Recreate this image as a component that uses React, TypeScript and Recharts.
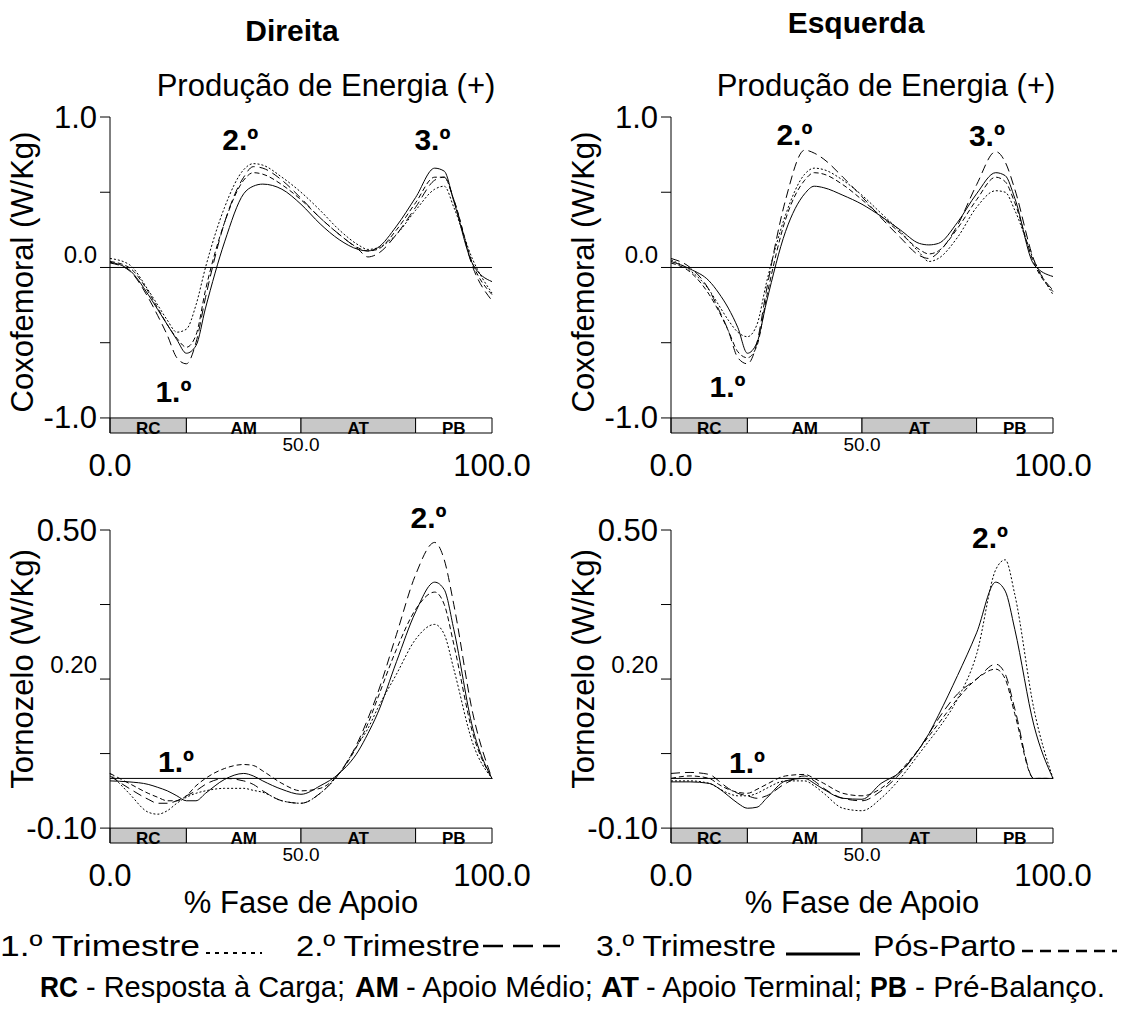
import React from 'react';
import { LineChart, Line, XAxis, YAxis, ReferenceLine, ReferenceArea, ReferenceDot } from 'recharts';

const FONT = '"Liberation Sans", Arial, Helvetica, sans-serif';

// % da fase de apoio
const pct = [0, 5, 10, 12.5, 15, 17.5, 20, 22.5, 25, 30, 35, 37.5, 40, 45, 50, 55, 60, 65, 67.5, 70, 75, 80, 85, 87.5, 90, 95, 100];

// Coxofemoral - Direita
const hipDirT1 = [0.06, 0.02, -0.15, -0.25, -0.35, -0.43, -0.41, -0.25, 0.0, 0.4, 0.65, 0.69, 0.68, 0.6, 0.5, 0.38, 0.25, 0.15, 0.12, 0.13, 0.22, 0.38, 0.52, 0.54, 0.4, 0.05, -0.17];
const hipDirT2 = [0.03, -0.02, -0.2, -0.32, -0.45, -0.6, -0.64, -0.5, -0.2, 0.3, 0.6, 0.67, 0.66, 0.58, 0.46, 0.33, 0.22, 0.12, 0.07, 0.09, 0.22, 0.4, 0.58, 0.6, 0.45, 0.0, -0.22];
const hipDirT3 = [0.035, -0.015, -0.18, -0.28, -0.38, -0.48, -0.57, -0.52, -0.27, 0.17, 0.49, 0.54, 0.554, 0.52, 0.42, 0.29, 0.185, 0.12, 0.11, 0.13, 0.275, 0.465, 0.66, 0.64, 0.44, 0.02, -0.094];
const hipDirPP = [0.04, 0.0, -0.16, -0.27, -0.38, -0.47, -0.53, -0.45, -0.15, 0.3, 0.58, 0.63, 0.62, 0.55, 0.45, 0.33, 0.22, 0.13, 0.11, 0.12, 0.25, 0.43, 0.6, 0.6, 0.45, 0.02, -0.18];

// Coxofemoral - Esquerda
const hipEsqT1 = [0.05, -0.02, -0.15, -0.25, -0.35, -0.43, -0.46, -0.38, -0.1, 0.35, 0.62, 0.66, 0.65, 0.58, 0.48, 0.36, 0.24, 0.1, 0.04, 0.06, 0.2, 0.4, 0.51, 0.5, 0.38, 0.05, -0.18];
const hipEsqT2 = [0.06, 0.0, -0.15, -0.28, -0.42, -0.6, -0.64, -0.5, -0.15, 0.45, 0.78, 0.76, 0.72, 0.6, 0.47, 0.33, 0.2, 0.08, 0.06, 0.1, 0.28, 0.55, 0.77, 0.7, 0.52, 0.05, -0.15];
const hipEsqT3 = [0.04, -0.01, -0.09, -0.17, -0.27, -0.4, -0.57, -0.5, -0.23, 0.24, 0.49, 0.54, 0.53, 0.48, 0.42, 0.34, 0.25, 0.16, 0.15, 0.16, 0.3, 0.49, 0.63, 0.61, 0.46, 0.02, -0.06];
const hipEsqPP = [0.03, -0.03, -0.18, -0.29, -0.42, -0.56, -0.6, -0.52, -0.2, 0.32, 0.58, 0.63, 0.62, 0.55, 0.45, 0.34, 0.23, 0.12, 0.09, 0.11, 0.26, 0.45, 0.6, 0.57, 0.43, 0.03, -0.16];

// Tornozelo - Direita
const ankDirT1 = [0.01, -0.03, -0.068, -0.072, -0.065, -0.05, -0.038, -0.03, -0.025, -0.02, -0.02, -0.024, -0.028, -0.045, -0.05, -0.03, 0.01, 0.07, 0.1, 0.14, 0.21, 0.28, 0.31, 0.29, 0.22, 0.07, 0];
const ankDirT2 = [0.005, -0.02, -0.042, -0.05, -0.05, -0.045, -0.035, -0.025, -0.012, 0.0, -0.005, -0.012, -0.025, -0.045, -0.05, -0.03, 0.01, 0.075, 0.12, 0.17, 0.29, 0.41, 0.475, 0.44, 0.35, 0.13, 0];
const ankDirT3 = [-0.005, -0.007, -0.012, -0.018, -0.025, -0.035, -0.045, -0.045, -0.03, -0.002, 0.01, 0.005, -0.005, -0.022, -0.032, -0.015, 0.01, 0.055, 0.09, 0.13, 0.235, 0.335, 0.395, 0.38, 0.3, 0.1, 0];
const ankDirPP = [0.01, -0.01, -0.03, -0.038, -0.045, -0.045, -0.035, -0.015, 0.0, 0.02, 0.028, 0.026, 0.015, -0.01, -0.025, -0.02, 0.01, 0.07, 0.11, 0.16, 0.26, 0.34, 0.375, 0.35, 0.27, 0.09, 0];

// Tornozelo - Esquerda
const ankEsqT1 = [-0.005, -0.005, -0.01, -0.02, -0.03, -0.035, -0.035, -0.03, -0.02, -0.005, -0.005, -0.015, -0.03, -0.06, -0.065, -0.04, 0.0, 0.05, 0.075, 0.1, 0.16, 0.25, 0.42, 0.44, 0.37, 0.14, 0];
const ankEsqT2 = [0.01, 0.012, 0.008, -0.005, -0.02, -0.03, -0.035, -0.04, -0.035, -0.01, 0.005, -0.005, -0.02, -0.04, -0.045, -0.025, 0.01, 0.06, 0.09, 0.12, 0.17, 0.2, 0.23, 0.21, 0.14, 0.0, 0];
const ankEsqT3 = [-0.007, -0.007, -0.01, -0.02, -0.035, -0.05, -0.06, -0.058, -0.04, -0.005, 0.0, -0.01, -0.022, -0.04, -0.042, -0.01, 0.013, 0.06, 0.09, 0.127, 0.207, 0.293, 0.395, 0.377, 0.3, 0.107, 0];
const ankEsqPP = [0.0, 0.005, 0.0, -0.012, -0.022, -0.028, -0.03, -0.022, -0.012, 0.005, 0.008, 0.0, -0.01, -0.03, -0.035, -0.02, 0.015, 0.06, 0.085, 0.11, 0.16, 0.2, 0.22, 0.2, 0.13, 0.0, 0];

const seriesKeys = ['t1', 't2', 't3', 'pp'];
const seriesNames = ['1.º Trimestre', '2.º Trimestre', '3.º Trimestre', 'Pós-Parto'];

const phaseNames = ['RC', 'AM', 'AT', 'PB'];
const phaseDesc = ['- Resposta à Carga;', '- Apoio Médio;', '- Apoio Terminal;', '- Pré-Balanço.'];
const phaseFrom = [0, 20, 50, 80];
const phaseTo = [20, 50, 80, 100];

const hipTicks = [1, 0.5, 0, -0.5, -1];
const ankleTicks = [0.5, 0.35, 0.2, 0.05, -0.1];
const xTicks = [0, 50, 100];

// picos anotados
const markText = ['1.º', '2.º', '3.º'];
const hipDirMarkX = [16.6, 34.1, 84.4];
const hipDirMarkY = [-0.825, 0.85, 0.85];
const hipEsqMarkX = [14.8, 32.3, 82.7];
const hipEsqMarkY = [-0.79, 0.885, 0.88];
const ankDirMarkX = [17.3, 83.4];
const ankDirMarkY = [0.035, 0.525];
const ankEsqMarkX = [19.9, 83.5];
const ankEsqMarkY = [0.032, 0.485];

const dash: Record<string, string | undefined> = { t1: '2 2', t2: '9 5', t3: undefined, pp: '5 3' };

const rows = (a: number[], b: number[], c: number[], d: number[]) =>
  pct.map((x, i) => ({ x, t1: a[i], t2: b[i], t3: c[i], pp: d[i] }));

type TickLabel = { v: number; text: string; size: number; dy: number };

const hipLabels: TickLabel[] = [
  { v: 1, text: '1.0', size: 31, dy: 0 },
  { v: 0, text: '0.0', size: 24, dy: -13 },
  { v: -1, text: '-1.0', size: 31, dy: 0 },
];
const ankleLabels: TickLabel[] = [
  { v: 0.5, text: '0.50', size: 31, dy: 0 },
  { v: 0.2, text: '0.20', size: 24, dy: -15 },
  { v: -0.1, text: '-0.10', size: 31, dy: 0 },
];

function YTick(props: any) {
  const { x, y, payload, labels } = props;
  const l = (labels as TickLabel[]).find((t) => Math.abs(t.v - payload.value) < 1e-9);
  if (!l) return <g />;
  return (
    <text x={x} y={y + l.dy} textAnchor="end" dominantBaseline="central" fontSize={l.size} fontFamily={FONT} fill="#000">
      {l.text}
    </text>
  );
}

function XTick(props: any) {
  const { x, y, payload } = props;
  if (payload.value === 50) {
    return (
      <text x={x} y={y + 18} textAnchor="middle" fontSize={19} fontFamily={FONT} fill="#000">50.0</text>
    );
  }
  return (
    <text x={x} y={y + 43} textAnchor="middle" fontSize={31} fontFamily={FONT} fill="#000">
      {payload.value.toFixed(1)}
    </text>
  );
}

function AxisTitle(props: any) {
  const { text, cx, cy, rotate } = props;
  const t = rotate ? `translate(${cx},${cy}) rotate(-90)` : `translate(${cx},${cy})`;
  return (
    <text transform={t} textAnchor="middle" fontSize={31} fontFamily={FONT} fill="#000">
      {text}
    </text>
  );
}

type PanelProps = {
  data: any[];
  left: number;
  top: number;
  height: number;
  marginBottom: number;
  xHeight: number;
  domain: [number, number];
  barTo: number;
  ticks: number[];
  labels: TickLabel[];
  yTitle: string;
  yTitleY: number;
  xTitle?: string;
  markX: number[];
  markY: number[];
};

function Panel(p: PanelProps) {
  return (
    <div style={{ position: 'absolute', left: p.left, top: p.top }}>
      <LineChart
        width={540}
        height={p.height}
        data={p.data}
        margin={{ top: 57, right: 48, left: 0, bottom: p.marginBottom }}
      >
        <XAxis
          type="number"
          dataKey="x"
          domain={[0, 100]}
          ticks={xTicks}
          interval={0}
          axisLine={false}
          tickLine={false}
          tickSize={0}
          tickMargin={0}
          height={p.xHeight}
          tick={(t: any) => <XTick {...t} />}
          label={p.xTitle ? <AxisTitle text={p.xTitle} cx={301} cy={p.height - 40} /> : undefined}
        />
        <YAxis
          type="number"
          domain={p.domain}
          ticks={p.ticks}
          interval={0}
          width={110}
          allowDataOverflow
          axisLine={{ stroke: '#000', strokeWidth: 1 }}
          tickLine={{ stroke: '#000', strokeWidth: 1 }}
          tickSize={10}
          tickMargin={3}
          tick={(t: any) => <YTick {...t} labels={p.labels} />}
          label={<AxisTitle text={p.yTitle} cx={33} cy={p.yTitleY} rotate />}
        />
        {phaseNames.map((ph, i) => (
          <ReferenceArea
            key={ph}
            x1={phaseFrom[i]}
            x2={phaseTo[i]}
            y1={p.domain[0]}
            y2={p.barTo}
            fill={i % 2 === 0 ? '#c8c8c8' : '#ffffff'}
            fillOpacity={1}
            stroke="#000"
            strokeWidth={1}
            ifOverflow="visible"
            label={{ value: ph, position: 'center', fontSize: 17, fontWeight: 'bold', fill: '#000', fontFamily: FONT, dy: 2 }}
          />
        ))}
        <ReferenceLine y={0} stroke="#000" strokeWidth={1} />
        {seriesKeys.map((k, i) => (
          <Line
            key={k}
            name={seriesNames[i]}
            dataKey={k}
            type="monotone"
            stroke="#000"
            strokeWidth={1}
            strokeDasharray={dash[k]}
            dot={false}
            activeDot={false}
            isAnimationActive={false}
          />
        ))}
        {p.markX.map((mx, i) => (
          <ReferenceDot
            key={i}
            x={mx}
            y={p.markY[i]}
            r={0}
            fill="none"
            stroke="none"
            ifOverflow="visible"
            label={{ value: markText[i], position: 'center', fontSize: 30, fontWeight: 'bold', fill: '#000', fontFamily: FONT }}
          />
        ))}
      </LineChart>
    </div>
  );
}

// posições da nota de rodapé: [início abreviatura, largura abreviatura, início descrição, largura descrição]
const noteLayout = [
  [40, 38, 86, 259],
  [355, 44, 406, 187],
  [601, 38, 646, 216],
  [870, 37, 915, 190],
];

function Legend() {
  return (
    <svg width={1122} height={1014} style={{ position: 'absolute', left: 0, top: 0 }}>
      <text x={292} y={41} textAnchor="middle" fontSize={30} fontWeight="bold" fontFamily={FONT}>Direita</text>
      <text x={856} y={33} textAnchor="middle" fontSize={30} fontWeight="bold" fontFamily={FONT}>Esquerda</text>
      <text x={326} y={96} textAnchor="middle" fontSize={31} fontFamily={FONT}>Produção de Energia (+)</text>
      <text x={886} y={96} textAnchor="middle" fontSize={31} fontFamily={FONT}>Produção de Energia (+)</text>

      <text x={0} y={956} fontSize={30} fontFamily={FONT} textLength={200} lengthAdjust="spacingAndGlyphs">{seriesNames[0]}</text>
      <line x1={206} x2={262} y1={953} y2={953} stroke="#000" strokeWidth={2} strokeDasharray="4 5" />
      <text x={296} y={956} fontSize={30} fontFamily={FONT} textLength={184} lengthAdjust="spacingAndGlyphs">{seriesNames[1]}</text>
      <line x1={483} x2={560} y1={946} y2={946} stroke="#000" strokeWidth={2.5} strokeDasharray="20 10" />
      <text x={596} y={956} fontSize={30} fontFamily={FONT} textLength={180} lengthAdjust="spacingAndGlyphs">{seriesNames[2]}</text>
      <line x1={786} x2={860} y1={954} y2={954} stroke="#000" strokeWidth={3} />
      <text x={873} y={956} fontSize={30} fontFamily={FONT} textLength={143} lengthAdjust="spacingAndGlyphs">{seriesNames[3]}</text>
      <line x1={1022} x2={1117} y1={951} y2={951} stroke="#000" strokeWidth={2.5} strokeDasharray="11 7" />

      {phaseNames.map((ph, i) => (
        <React.Fragment key={ph}>
          <text x={noteLayout[i][0]} y={997} fontSize={29} fontWeight="bold" fontFamily={FONT}
            textLength={noteLayout[i][1]} lengthAdjust="spacingAndGlyphs">{ph}</text>
          <text x={noteLayout[i][2]} y={997} fontSize={29} fontFamily={FONT}
            textLength={noteLayout[i][3]} lengthAdjust="spacingAndGlyphs">{phaseDesc[i]}</text>
        </React.Fragment>
      ))}
    </svg>
  );
}

export default function App() {
  return (
    <div style={{ position: 'absolute', left: 0, top: 0, width: 1122, height: 1014, background: '#fff', fontFamily: FONT }}>
      <Legend />
      <Panel
        data={rows(hipDirT1, hipDirT2, hipDirT3, hipDirPP)}
        left={0} top={60} height={460} marginBottom={27} xHeight={60}
        domain={[-1.1, 1]} barTo={-1} ticks={hipTicks} labels={hipLabels}
        yTitle="Coxofemoral (W/Kg)" yTitleY={212}
        markX={hipDirMarkX} markY={hipDirMarkY}
      />
      <Panel
        data={rows(hipEsqT1, hipEsqT2, hipEsqT3, hipEsqPP)}
        left={561} top={60} height={460} marginBottom={27} xHeight={60}
        domain={[-1.1, 1]} barTo={-1} ticks={hipTicks} labels={hipLabels}
        yTitle="Coxofemoral (W/Kg)" yTitleY={212}
        markX={hipEsqMarkX} markY={hipEsqMarkY}
      />
      <Panel
        data={rows(ankDirT1, ankDirT2, ankDirT3, ankDirPP)}
        left={0} top={473} height={480} marginBottom={30} xHeight={80}
        domain={[-0.13, 0.5]} barTo={-0.1} ticks={ankleTicks} labels={ankleLabels}
        yTitle="Tornozelo (W/Kg)" yTitleY={196} xTitle="% Fase de Apoio"
        markX={ankDirMarkX} markY={ankDirMarkY}
      />
      <Panel
        data={rows(ankEsqT1, ankEsqT2, ankEsqT3, ankEsqPP)}
        left={561} top={473} height={480} marginBottom={30} xHeight={80}
        domain={[-0.13, 0.5]} barTo={-0.1} ticks={ankleTicks} labels={ankleLabels}
        yTitle="Tornozelo (W/Kg)" yTitleY={196} xTitle="% Fase de Apoio"
        markX={ankEsqMarkX} markY={ankEsqMarkY}
      />
    </div>
  );
}
